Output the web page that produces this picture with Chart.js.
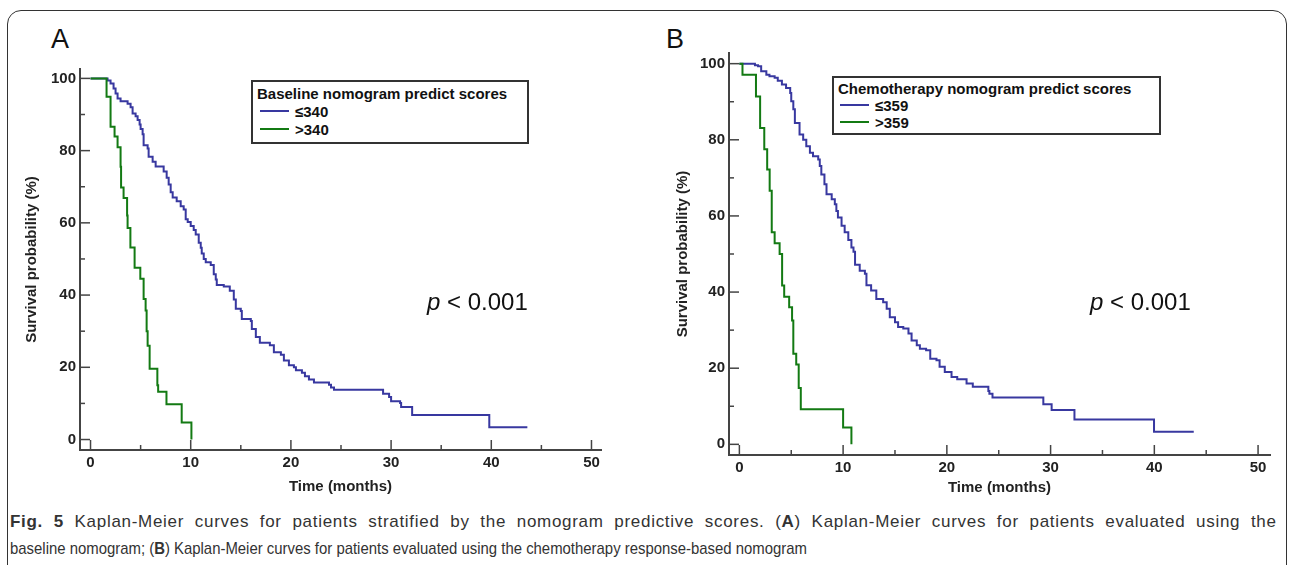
<!DOCTYPE html>
<html>
<head>
<meta charset="utf-8">
<script src="https://cdn.jsdelivr.net/npm/chart.js@4.4.1/dist/chart.umd.min.js"></script>
<style>
  body { margin: 0; width: 1292px; height: 565px; background: #fff; position: relative; overflow: hidden;
         font-family: "Liberation Sans", Arial, sans-serif; }
  #frame { position: absolute; left: 7px; top: 10px; width: 1280px; height: 620px; border: 1.5px solid #333;
           border-radius: 14px; box-sizing: border-box; }
  canvas { position: absolute; }
  #chartA { left: 10px; top: 56px; }
  #chartB { left: 650px; top: 40px; }
  .panel { position: absolute; font-size: 27px; line-height: 27px; color: #111; top: 26px; }
  .pval { position: absolute; font-size: 24px; line-height: 24px; color: #111; top: 290px; white-space: nowrap; }
  .legend { position: absolute; border: 2px solid #333; background: #fff; font-weight: bold; font-size: 15px;
            color: #111; box-sizing: border-box; white-space: nowrap; }
  .legend .row { display: flex; align-items: center; }
  .legend .swatch { width: 29px; height: 2px; margin-right: 6px; }
  .caption { position: absolute; left: 10px; font-size: 17px; line-height: 20px; color: #333; white-space: nowrap;
             transform-origin: 0 50%; }
</style>
</head>
<body>
<div id="frame"></div>

<div class="panel" style="left:51px">A</div>
<div class="panel" style="left:666px">B</div>

<canvas id="chartA" width="615" height="449"></canvas>
<canvas id="chartB" width="640" height="465"></canvas>

<div class="legend" style="left:251px; top:80px; width:278px; height:64px; padding:2px 4px;">
  <div class="row" style="height:18px">Baseline nomogram predict scores</div>
  <div class="row" style="height:18px"><span class="swatch" style="background:#3838a0; margin-left:3px"></span>≤340</div>
  <div class="row" style="height:18px"><span class="swatch" style="background:#137a13; margin-left:3px"></span>&gt;340</div>
</div>
<div class="legend" style="left:832px; top:76px; width:329px; height:59px; padding:1.5px 4px;">
  <div class="row" style="height:17px">Chemotherapy nomogram predict scores</div>
  <div class="row" style="height:17px"><span class="swatch" style="background:#3838a0; margin-left:2px"></span>≤359</div>
  <div class="row" style="height:17px"><span class="swatch" style="background:#137a13; margin-left:2px"></span>&gt;359</div>
</div>

<div class="pval" style="left:427px"><i>p</i> &lt; 0.001</div>
<div class="pval" style="left:1090px"><i>p</i> &lt; 0.001</div>

<div class="caption" id="cap1" style="top:512px"><b>Fig. 5</b> Kaplan-Meier curves for patients stratified by the nomogram predictive scores. (<b>A</b>) Kaplan-Meier curves for patients evaluated using the</div>
<div class="caption" id="cap2" style="top:539px">baseline nomogram; (<b>B</b>) Kaplan-Meier curves for patients evaluated using the chemotherapy response-based nomogram</div>

<script>
// ---- data (time in months, survival in %) ----
const aBlueTime = [0, 1.7, 2.0, 2.3, 2.5, 2.7, 3.0, 3.7, 4.0, 4.2, 4.5, 4.7, 4.9, 5.0, 5.2, 5.3, 5.7, 5.8, 6.2, 6.5,
  7.3, 7.6, 7.8, 8.0, 8.2, 8.6, 9.0, 9.3, 9.5, 9.7, 10.0, 10.3, 10.5, 10.8, 11.0, 11.1, 11.3, 11.5, 12.0, 12.3,
  12.5, 12.6, 13.3, 13.9, 14.3, 14.5, 15.0, 15.1, 16.0, 16.1, 16.5, 16.9, 17.9, 18.3, 19.0, 19.3, 19.8, 20.3,
  20.5, 21.1, 21.4, 21.8, 22.3, 23.8, 24.0, 24.3, 29.2, 29.8, 30.0, 30.9, 31.0, 32.1, 39.8, 43.6];
const aBlueSurv = [100, 99.4, 98.6, 97.2, 95.8, 94.4, 93.7, 93.0, 92.0, 90.3, 89.5, 88.5, 87.2, 86.0, 84.5, 81.5,
  80.6, 78.3, 76.9, 75.6, 74.2, 72.5, 70.6, 68.5, 67.0, 66.0, 64.6, 63.7, 61.0, 60.2, 59.1, 58.0, 56.8, 54.5,
  53.1, 51.5, 50.0, 49.1, 48.3, 45.8, 44.3, 42.8, 42.4, 41.2, 38.8, 36.2, 35.6, 33.4, 32.8, 30.6, 28.4, 26.8,
  26.1, 24.2, 23.5, 21.9, 20.6, 20.0, 19.2, 18.5, 17.5, 16.6, 15.8, 15.2, 14.4, 13.8, 12.7, 11.8, 10.6, 10.1,
  9.0, 6.8, 3.4, 3.4];
const aGreenTime = [0, 1.6, 2.0, 2.4, 2.7, 3.0, 3.05, 3.3, 3.65, 3.7, 3.98, 4.4, 4.97, 5.3, 5.5, 5.6, 5.7, 5.9,
  6.67, 6.75, 7.58, 9.1, 10.07];
const aGreenSurv = [100, 94.9, 86.6, 83.9, 80.9, 75.5, 69.8, 66.9, 62.0, 58.6, 53.2, 47.6, 44.5, 38.9, 35.7, 30.0,
  26.0, 19.6, 15.0, 13.2, 9.8, 4.7, 0];

const bBlueTime = [0, 1.5, 1.8, 2.1, 2.6, 2.9, 3.4, 3.7, 4.1, 4.5, 4.9, 5.0, 5.2, 5.35, 5.8, 6.15, 6.45, 6.8, 7.1,
  7.6, 7.75, 7.9, 8.2, 8.4, 8.9, 9.2, 9.35, 9.5, 9.85, 10.15, 10.5, 10.8, 11.0, 11.15, 11.6, 12.1, 12.25, 12.7,
  13.2, 13.86, 14.2, 14.5, 15.0, 15.3, 15.8, 16.3, 16.6, 17.1, 17.4, 18.0, 18.4, 19.0, 19.3, 19.8, 20.45, 21.0,
  21.9, 22.5, 24.0, 24.1, 24.4, 29.3, 30.1, 32.3, 39.97, 43.8];
const bBlueSurv = [100, 99.6, 99.3, 98.0, 97.1, 96.7, 96.3, 95.5, 94.5, 93.6, 92.3, 90.1, 88.0, 84.4, 81.4, 80.0,
  78.3, 76.6, 75.7, 74.8, 73.1, 70.9, 68.3, 65.7, 64.4, 63.1, 61.3, 59.6, 57.4, 55.7, 53.7, 51.7, 50.6, 47.2,
  45.6, 44.8, 41.8, 40.4, 38.2, 37.3, 35.6, 33.4, 32.1, 30.8, 30.4, 29.1, 27.3, 26.0, 25.1, 24.7, 22.5, 22.1,
  20.4, 19.0, 17.7, 17.1, 16.0, 15.1, 14.0, 13.3, 12.3, 10.5, 9.0, 6.5, 3.3, 3.3];
const bGreenTime = [0, 0.3, 1.6, 2.0, 2.4, 2.68, 2.92, 3.12, 3.4, 3.88, 4.12, 4.32, 4.8, 5.08, 5.2, 5.48, 5.72,
  5.92, 10.0, 10.8];
const bGreenSurv = [100, 97.1, 91.4, 83.1, 77.5, 72.2, 66.6, 55.7, 52.8, 50.0, 41.7, 38.8, 36.0, 32.5, 23.8, 21.0,
  14.8, 9.2, 4.4, 0];

const xTicks = [0, 10, 20, 30, 40, 50];
const xMinorTicks = [5, 15, 25, 35, 45];
const yTicks = [0, 20, 40, 60, 80, 100];
const yMinorTicks = [10, 30, 50, 70, 90];

const blue = "#3838a0";
const green = "#137a13";
const axisColor = "#444";
const labelFont = { family: "'Liberation Sans', Arial, sans-serif", size: 15, weight: "bold" };

function toPoints(times, surv) {
    return times.map((t, i) => ({ x: t, y: surv[i] }));
}

// tick marks point into the plot, like the original
const innerTicks = {
    id: "innerTicks",
    beforeDatasetsDraw(chart) {
        const { ctx, chartArea, scales: { x, y } } = chart;
        ctx.save();
        ctx.strokeStyle = axisColor;
        ctx.lineWidth = 1.5;
        function mark(x1, y1, x2, y2) {
            ctx.beginPath();
            ctx.moveTo(x1, y1);
            ctx.lineTo(x2, y2);
            ctx.stroke();
        }
        xTicks.forEach(v => { const p = x.getPixelForValue(v); mark(p, chartArea.bottom, p, chartArea.bottom - 10); });
        xMinorTicks.forEach(v => { const p = x.getPixelForValue(v); mark(p, chartArea.bottom, p, chartArea.bottom - 5); });
        yTicks.forEach(v => { const p = y.getPixelForValue(v); mark(chartArea.left, p, chartArea.left + 10, p); });
        yMinorTicks.forEach(v => { const p = y.getPixelForValue(v); mark(chartArea.left, p, chartArea.left + 5, p); });
        ctx.restore();
    }
};

function makeChart(id, s) {
    const ctx = document.getElementById(id).getContext("2d");
    return new Chart(ctx, {
        type: "line",
        data: {
            datasets: [
                { data: toPoints(s.greenTime, s.greenSurv), borderColor: green },
                { data: toPoints(s.blueTime, s.blueSurv), borderColor: blue }
            ]
        },
        options: {
            responsive: false,
            animation: false,
            layout: { padding: s.padding },
            elements: {
                line: { stepped: "before", borderWidth: 2, tension: 0 },
                point: { radius: 0 }
            },
            plugins: { legend: { display: false }, tooltip: { enabled: false } },
            scales: {
                x: {
                    type: "linear",
                    min: s.xMin, max: s.xMax,
                    afterBuildTicks: sc => { sc.ticks = xTicks.map(v => ({ value: v })); },
                    afterFit: sc => { sc.height = s.xHeight; },
                    ticks: { font: labelFont, color: "#222", padding: 4, autoSkip: false, maxRotation: 0 },
                    grid: { display: false, drawTicks: false },
                    border: { display: true, color: axisColor, width: 2 },
                    title: { display: true, text: "Time (months)", font: labelFont, color: "#222",
                             padding: { top: 0, bottom: s.xTitlePad } }
                },
                y: {
                    min: s.yMin, max: s.yMax,
                    afterBuildTicks: sc => { sc.ticks = yTicks.map(v => ({ value: v })); },
                    afterFit: sc => { sc.width = s.yWidth; },
                    ticks: { font: labelFont, color: "#222", padding: 4 },
                    grid: { display: false, drawTicks: false },
                    border: { display: true, color: axisColor, width: 2 },
                    title: { display: true, text: "Survival probability (%)", font: labelFont, color: "#222",
                             padding: { top: s.yTitlePad, bottom: 0 } }
                }
            }
        },
        plugins: [innerTicks]
    });
}

makeChart("chartA", {
    blueTime: aBlueTime, blueSurv: aBlueSurv, greenTime: aGreenTime, greenSurv: aGreenSurv,
    xMin: -1.05, xMax: 50.95, yMin: -2.9, yMax: 102.6,
    padding: { left: 0, top: 11, right: 24, bottom: 0 },
    xHeight: 55, yWidth: 70, xTitlePad: 9, yTitlePad: 13
});

makeChart("chartB", {
    blueTime: bBlueTime, blueSurv: bBlueSurv, greenTime: bGreenTime, greenSurv: bGreenSurv,
    xMin: -1.0, xMax: 51.15, yMin: -2.8, yMax: 102.8,
    padding: { left: 0, top: 12, right: 20, bottom: 0 },
    xHeight: 50, yWidth: 79, xTitlePad: 8, yTitlePad: 24
});

// fit caption lines to the widths they have in the figure
const cap1 = document.getElementById("cap1");
const cap2 = document.getElementById("cap2");
const w2 = cap2.getBoundingClientRect().width;
cap2.style.transform = "scaleX(" + (797 / w2) + ")";
const w1 = cap1.getBoundingClientRect().width;
const extra = 1266 - w1;
const gaps = cap1.textContent.split(" ").length - 1;
cap1.style.letterSpacing = (0.5 * extra / (cap1.textContent.length - 1)) + "px";
cap1.style.wordSpacing = (0.5 * extra / gaps) + "px";
</script>
</body>
</html>
